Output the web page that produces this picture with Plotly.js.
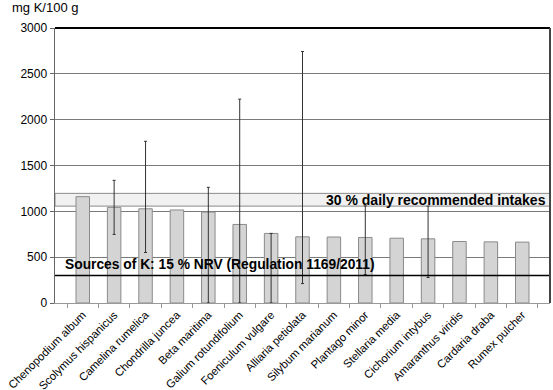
<!DOCTYPE html>
<html>
<head>
<meta charset="utf-8">
<script src="https://cdn.plot.ly/plotly-3.0.1.min.js"></script>
<style>html,body{margin:0;padding:0;background:#fff;}#chart{width:553px;height:390px;}</style>
</head>
<body>
<div id="chart"></div>
<script>
var categories = ["Chenopodium album","Scolymus hispanicus","Camelina rumelica","Chondrilla juncea","Beta maritima","Galium rotundifolium","Foeniculum vulgare","Alliaria petiolata","Silybum marianum","Plantago minor","Stellaria media","Cichorium intybus","Amaranthus viridis","Cardaria draba","Rumex pulcher"];
var values = [1160, 1043, 1028, 1015, 992, 857, 759, 722, 720, 715, 707, 700, 671, 667, 664];
var errPlus = [null, 295, 736, null, 270, 1367, 0, 2022, null, 345, null, 357, null, null, null];
var errMinus = [null, 295, 477, null, 992, 857, 759, 510, null, 405, null, 422, null, null, null];
var yTicks = [0, 500, 1000, 1500, 2000, 2500, 3000];
var nrvLine = 300;
var dailyBand = [1057, 1196];
var yTitle = "mg K/100 g";
var nrvText = "Sources of K: 15 % NRV (Regulation 1169/2011)";
var bandText = "30 % daily recommended intakes";

var barTrace = {
  type: 'bar',
  x: categories,
  y: values,
  marker: {color: '#d4d4d4', line: {color: '#8a8a8a', width: 1}},
  hoverinfo: 'x+y'
};

// error bars only where the reference shows them
var errY = values.map(function (v, i) { return errPlus[i] === null ? null : v; });
var errTrace = {
  type: 'scatter',
  mode: 'markers',
  x: categories,
  y: errY,
  marker: {size: 1, color: 'rgba(0,0,0,0)'},
  error_y: {type: 'data', symmetric: false,
    array: errPlus.map(function (e) { return e === null ? 0 : e; }),
    arrayminus: errMinus.map(function (e) { return e === null ? 0 : e; }),
    color: '#333333', thickness: 1, width: 1.5},
  hoverinfo: 'skip', cliponaxis: true
};

var layout = {
  width: 553, height: 390,
  margin: {l: 55, r: 3, t: 28, b: 87, autoexpand: false},
  paper_bgcolor: '#ffffff', plot_bgcolor: '#ffffff',
  showlegend: false,
  bargap: 0.57,
  font: {family: 'Liberation Sans, Arial, sans-serif', color: '#000', size: 12},
  xaxis: {
    type: 'category', tickangle: -45, tickson: 'boundaries',
    ticks: 'outside', ticklen: 4, tickcolor: '#999',
    showline: true, linecolor: '#999', linewidth: 1,
    showgrid: false, zeroline: false, automargin: false,
    tickfont: {size: 11.3, family: 'Liberation Sans, Arial, sans-serif'}
  },
  yaxis: {
    range: [0, 3000], tickvals: yTicks, ticktext: yTicks.map(String),
    ticks: 'outside', ticklen: 4, tickcolor: '#666',
    showline: true, linecolor: '#666', linewidth: 1.5,
    showgrid: true, gridcolor: '#7a7a7a', gridwidth: 1, zeroline: false,
    tickfont: {size: 12}
  },
  shapes: [
    {type: 'rect', xref: 'paper', yref: 'y', x0: 0, x1: 1, y0: dailyBand[0], y1: dailyBand[1], fillcolor: '#f0f1f0', line: {color: '#8a8a8a', width: 1}, layer: 'below'},
    {type: 'line', xref: 'paper', yref: 'y', x0: 0, x1: 1, y0: nrvLine, y1: nrvLine, line: {color: '#000', width: 1.5}, layer: 'above'},
    {type: 'line', xref: 'paper', yref: 'paper', x0: 0, x1: 1, y0: 1, y1: 1, line: {color: '#000', width: 2}, layer: 'above'},
    {type: 'line', xref: 'paper', yref: 'paper', x0: 1, x1: 1, y0: 0, y1: 1, line: {color: '#444', width: 2}, layer: 'above'}
  ],
  annotations: [
    {text: yTitle, xref: 'paper', yref: 'paper', x: -0.091, y: 1.076, xanchor: 'left', yanchor: 'middle', showarrow: false, font: {size: 13}},
    {text: '<b>' + nrvText + '</b>', xref: 'paper', yref: 'y', x: 0.016, y: 423, xanchor: 'left', yanchor: 'middle', showarrow: false, font: {size: 13.8}},
    {text: '<b>' + bandText + '</b>', xref: 'paper', yref: 'y', x: 0.995, y: 1122, xanchor: 'right', yanchor: 'middle', showarrow: false, font: {size: 14}}
  ]
};

Plotly.newPlot('chart', [barTrace, errTrace], layout, {displayModeBar: false, staticPlot: true});
</script>
</body>
</html>
